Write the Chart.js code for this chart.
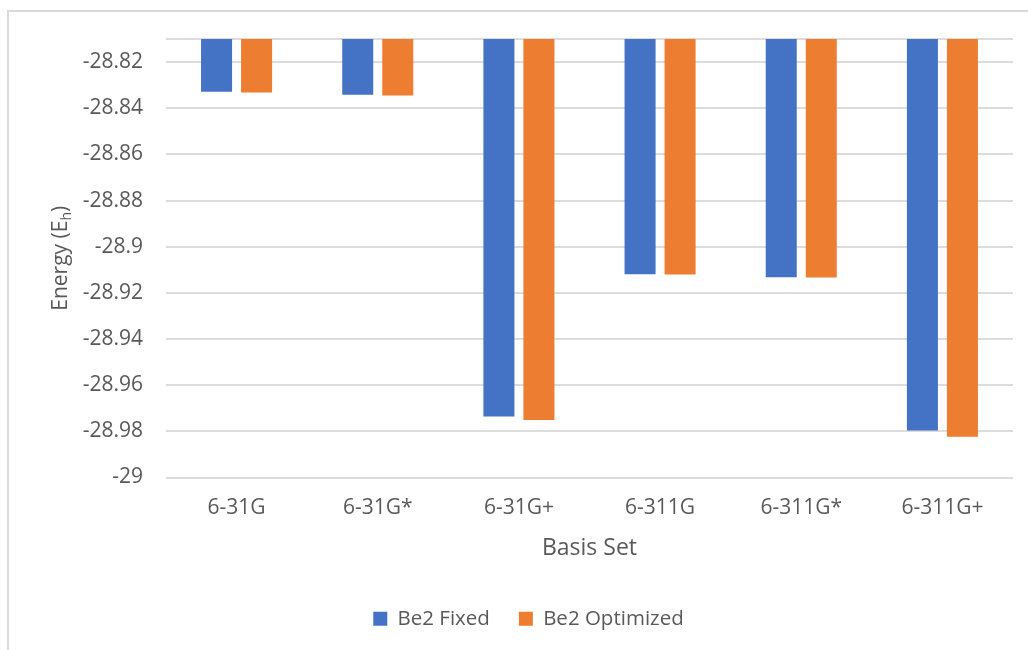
<!DOCTYPE html>
<html>
<head>
<meta charset="utf-8">
<script src="https://cdn.jsdelivr.net/npm/chart.js@4/dist/chart.umd.min.js"></script>
<style>
  html, body { margin: 0; padding: 0; background: #ffffff; }
  #frame { position: absolute; left: 7px; top: 10px; width: 1100px; height: 700px;
           border: 2px solid #d9d9d9; box-sizing: border-box; }
  #wrap { position: absolute; left: 0; top: 0; width: 1028px; height: 650px; }
</style>
</head>
<body>
<div id="frame"></div>
<div id="wrap"><canvas id="chart" width="1028" height="650"></canvas></div>
<script>
// Basis sets on the category axis
const basisSets = ['6-31G', '6-31G*', '6-31G+', '6-311G', '6-311G*', '6-311G+'];

// Total energies in hartree
const be2Fixed     = [-28.8329, -28.8342, -28.9736, -28.9119, -28.9132, -28.9796];
const be2Optimized = [-28.8332, -28.8345, -28.9751, -28.9120, -28.9133, -28.9823];

// Energy axis ticks and their labels (the top line is the axis maximum, unlabelled)
const energyTicks      = [-29, -28.98, -28.96, -28.94, -28.92, -28.9, -28.88, -28.86, -28.84, -28.82, -28.81];
const energyTickLabels = ['-29', '-28.98', '-28.96', '-28.94', '-28.92', '-28.9', '-28.88', '-28.86', '-28.84', '-28.82', ''];

const textColor = '#595959';
const gridColor = '#dcdcdc';
const fontFamily = '"Open Sans", "Noto Sans", sans-serif';

// Rotated y-axis title with a subscript "h"
const energyAxisTitle = {
  id: 'energyAxisTitle',
  afterDraw(chart) {
    const { ctx, chartArea } = chart;
    const head = 'Energy (E', sub = 'h', tail = ')';
    const big = '21px ' + fontFamily, small = '14px ' + fontFamily;
    ctx.save();
    ctx.translate(61, (chartArea.top + chartArea.bottom) / 2);
    ctx.rotate(-Math.PI / 2);
    ctx.fillStyle = textColor;
    ctx.textBaseline = 'middle';
    ctx.textAlign = 'left';
    ctx.font = big;
    const w1 = ctx.measureText(head).width;
    const w3 = ctx.measureText(tail).width;
    ctx.font = small;
    const w2 = ctx.measureText(sub).width;
    let x = -(w1 + w2 + w3) / 2;
    ctx.font = big;  ctx.fillText(head, x, 0); x += w1;
    ctx.font = small; ctx.fillText(sub, x, 6); x += w2;
    ctx.font = big;  ctx.fillText(tail, x, 0);
    ctx.restore();
  }
};

new Chart(document.getElementById('chart'), {
  type: 'bar',
  data: {
    labels: basisSets,
    datasets: [
      { label: 'Be2 Fixed', data: be2Fixed, backgroundColor: '#4472C4', borderWidth: 0,
        categoryPercentage: 0.567, barPercentage: 0.775 },
      { label: 'Be2 Optimized', data: be2Optimized, backgroundColor: '#ED7D31', borderWidth: 0,
        categoryPercentage: 0.567, barPercentage: 0.775 }
    ]
  },
  options: {
    responsive: false,
    animation: false,
    devicePixelRatio: 1,
    layout: { padding: { top: 39, right: 15, left: 44, bottom: 11 } },
    plugins: {
      legend: {
        position: 'bottom',
        labels: {
          color: textColor,
          font: { family: fontFamily, size: 20.5 },
          boxWidth: 14,
          boxHeight: 14,
          padding: 29
        }
      },
      tooltip: { enabled: false }
    },
    scales: {
      x: {
        afterFit(scale) { scale.height = 102; },
        grid: { display: false, drawTicks: false },
        border: { display: false },
        ticks: {
          color: textColor,
          font: { family: fontFamily, size: 21 },
          padding: 18.4,
          maxRotation: 0,
          autoSkip: false
        },
        title: {
          display: true,
          text: 'Basis Set',
          color: textColor,
          font: { family: fontFamily, size: 23 },
          padding: { top: 0, bottom: 17.2 }
        }
      },
      y: {
        min: -29,
        max: -28.81,
        afterBuildTicks(scale) {
          scale.ticks = energyTicks.map(v => ({ value: v }));
        },
        afterFit(scale) { scale.width = 122; },
        grid: { color: gridColor, lineWidth: 2, drawTicks: false },
        border: { display: false },
        ticks: {
          color: textColor,
          font: { family: fontFamily, size: 21 },
          padding: 23,
          callback(value) {
            const i = energyTicks.findIndex(t => Math.abs(t - value) < 1e-9);
            return i >= 0 ? energyTickLabels[i] : '';
          }
        }
      }
    }
  },
  plugins: [energyAxisTitle]
});
</script>
</body>
</html>
